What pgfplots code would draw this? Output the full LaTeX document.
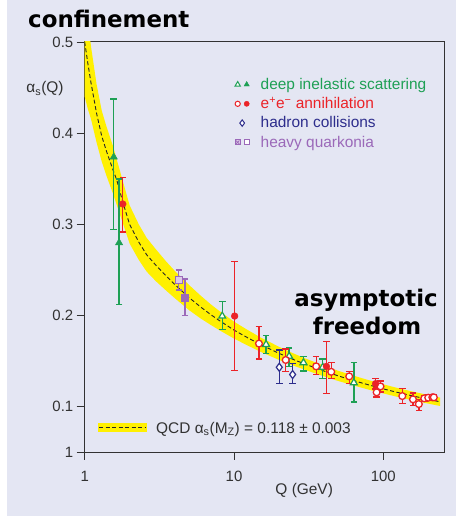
\documentclass[border=0pt]{standalone}
\usepackage{pgfplots}
\pgfplotsset{compat=1.18}
\usepackage{fontspec}
\setmainfont{Liberation Sans}
\newfontfamily\headfont{DejaVu Sans}
\definecolor{dgreen}{RGB}{30,160,85}
\definecolor{ered}{RGB}{235,35,40}
\definecolor{hblue}{RGB}{45,45,140}
\definecolor{qpurple}{RGB}{155,105,185}
\definecolor{qcdyellow}{RGB}{255,240,0}
\definecolor{bglav}{RGB}{228,230,243}
\definecolor{axgray}{RGB}{50,50,50}

\pgfplotsset{
  ebar/.style={error bars/.cd, y dir=both, y explicit,
    error bar style={line width=1.3bp, color=#1},
    error mark options={rotate=90, line width=1.3bp, mark size=3.3bp, color=#1},
    /pgfplots/.cd},
}

\begin{document}
\begin{tikzpicture}
\fill[white] (0,0) rectangle (456bp,516bp);
\fill[bglav] (7bp,0) rectangle (456bp,516bp);
\begin{axis}[
  at={(84.7bp,64bp)}, anchor=south west,
  scale only axis, width=359.3bp, height=410bp,
  xmode=log, xmin=1, xmax=255, ymin=0.05, ymax=0.5,
  xtick={1,10,100}, xticklabels={1,10,100}, xminorticks=false,
  ytick={0.05,0.1,0.2,0.3,0.4,0.5}, yticklabels={1,0.1,0.2,0.3,0.4,0.5},
  tick align=outside, major tick length=8bp,
  xtick pos=bottom, ytick pos=left,
  axis line style={line width=1bp, axgray},
  tick style={line width=0.9bp, axgray},
  ticklabel style={font=\fontsize{15}{18}\selectfont, text=axgray},
  xticklabel style={yshift=-8bp},
  legend style={at={(0.4058,0.922)}, anchor=north west, draw=none, fill=none,
    font=\fontsize{15.5}{18}\selectfont, row sep=2.5bp},
  legend cell align=left,
]
% QCD band (upper edge, then lower edge back)
\addplot[fill=qcdyellow, draw=none, forget plot] coordinates {
(1.00,0.560) (1.05,0.5254) (1.10,0.496) (1.20,0.454) (1.30,0.4248) (1.40,0.407)
(1.55,0.3853) (1.80,0.3473) (2.00,0.3207) (2.30,0.3000) (2.60,0.2850)
(3.0,0.2724) (3.5,0.2594) (4,0.2490) (5,0.2333) (6,0.2214) (7,0.2120) (8,0.2046)
(10,0.1931) (12,0.1851) (15,0.1759) (20,0.1655) (25,0.1582) (30,0.1527)
(40,0.1448) (50,0.1391) (60,0.1349) (70,0.1316) (80,0.1288) (91,0.1262)
(100,0.1243) (120,0.1209) (150,0.1171) (200,0.1125) (240,0.1097)
(240,0.1005) (200,0.1031) (150,0.1075) (120,0.1111) (100,0.1143) (91,0.1160)
(80,0.1184) (70,0.1210) (60,0.1241) (50,0.1279) (40,0.1330) (30,0.1401)
(25,0.1448) (20,0.1511) (15,0.1601) (12,0.1679) (10,0.1745) (8,0.1836)
(7,0.1894) (6,0.1964) (5,0.2057) (4,0.2190) (3.5,0.2274) (3.0,0.2374)
(2.60,0.2480) (2.30,0.2610) (2.00,0.2787) (1.80,0.3013) (1.55,0.3333)
(1.40,0.353) (1.30,0.3688) (1.20,0.390) (1.10,0.416) (1.05,0.4264) (1.00,0.440)
} -- cycle;
% QCD central value
\addplot[black!85, line width=0.9bp, dash pattern=on 4bp off 2.5bp, forget plot] coordinates {
(1.00,0.500) (1.05,0.4764) (1.10,0.456) (1.20,0.422) (1.30,0.3968) (1.40,0.380)
(1.55,0.3593) (1.64,0.3485) (1.80,0.3243) (2.00,0.2997) (2.30,0.2805) (2.60,0.2665)
(3.0,0.2549) (3.5,0.2434) (4,0.2340) (5,0.2195) (6,0.2089) (7,0.2007) (8,0.1941)
(10,0.1838) (12,0.1765) (15,0.1680) (20,0.1583) (25,0.1515) (30,0.1464)
(40,0.1389) (50,0.1335) (60,0.1295) (70,0.1263) (80,0.1236) (91,0.1211)
(100,0.1193) (120,0.1160) (150,0.1123) (200,0.1078) (240,0.1051)
};
% heavy quarkonia
\addplot[forget plot, only marks, color=qpurple, mark=square*, mark size=3.3bp,
  mark options={solid, fill=qpurple!35!white, line width=1.1bp}, ebar=qpurple]
  coordinates {(4.27,0.2387) += (0,0.011) -= (0,0.011)};
\addplot[forget plot, only marks, color=qpurple, mark=square*, mark size=3.5bp,
  mark options={solid, fill=qpurple}, ebar=qpurple]
  coordinates {(4.69,0.2197) += (0,0.0201) -= (0,0.0201)};
% hadron collisions
\addplot[forget plot, only marks, color=hblue, mark=diamond*, mark size=4bp,
  mark options={solid, fill=white, line width=1.2bp}, ebar=hblue]
  coordinates {(20.1,0.143) += (0,0.019) -= (0,0.018)
               (24.7,0.135) += (0,0.012) -= (0,0.010)};
% deep inelastic scattering, open
\addplot[forget plot, only marks, color=dgreen, mark=triangle*, mark size=4bp,
  mark options={solid, fill=white, line width=1.2bp}, ebar=dgreen]
  coordinates {(8.34,0.1992) += (0,0.0158) -= (0,0.0145)
               (16.4,0.168) += (0,0.010) -= (0,0.010)
               (23.4,0.155) += (0,0.009) -= (0,0.011)
               (29.2,0.148) += (0,0.007) -= (0,0.009)
               (39.3,0.143) += (0,0.009) -= (0,0.012)
               (63.5,0.126) += (0,0.022) -= (0,0.021)};
% deep inelastic scattering, filled
\addplot[forget plot, only marks, color=dgreen, mark=triangle*, mark size=4.2bp,
  mark options={solid, fill=dgreen}, ebar=dgreen]
  coordinates {(1.565,0.3738) += (0,0.0636) -= (0,0.0794)
               (1.70,0.2797) += (0,0.0699) -= (0,0.0681)};
% e+e- annihilation, open
\addplot[forget plot, only marks, color=ered, mark=*, mark size=3.4bp,
  mark options={solid, fill=white, line width=1.3bp}, ebar=ered]
  coordinates {(14.7,0.169) += (0,0.019) -= (0,0.017)
               (22.2,0.151) += (0,0.012) -= (0,0.013)
               (35.5,0.144) += (0,0.011) -= (0,0.009)
               (44.8,0.138) += (0,0.010) -= (0,0.007)
               (59.1,0.133) += (0,0.005) -= (0,0.008)
               (95.7,0.122) += (0,0.006) -= (0,0.006)
               (90.2,0.1155) += (0,0.005) -= (0,0.005)
               (134,0.1114) += (0,0.0086) -= (0,0.0084)
               (158,0.1078) += (0,0.007) -= (0,0.007)
               (173,0.1026) += (0,0.0054) -= (0,0.0073)
               (188,0.1089) += (0,0.003) -= (0,0.003)
               (200,0.1096) += (0,0.003) -= (0,0.003)
               (213,0.110) += (0,0.003) -= (0,0.003)
               (218,0.110) += (0,0.003) -= (0,0.003)};
% e+e- annihilation, filled
\addplot[forget plot, only marks, color=ered, mark=*, mark size=3.4bp,
  mark options={solid, fill=ered}, ebar=ered]
  coordinates {(1.80,0.3222) += (0,0.0293) -= (0,0.0308)
               (10.1,0.1992) += (0,0.0597) -= (0,0.060)
               (41.6,0.144) += (0,0.027) -= (0,0.030)
               (88.8,0.125) += (0,0.006) -= (0,0.006)};
% legend
\addlegendimage{legend image code/.code={
  \path[draw=none, fill=none] (0bp,-5bp) rectangle (25bp,5bp);
  \path[draw=dgreen, fill=white, line width=1bp] plot[mark=triangle*, mark size=3bp, mark options={solid}] coordinates {(4bp,0bp)};
  \path[draw=dgreen, fill=dgreen] plot[mark=triangle*, mark size=3bp, mark options={solid}] coordinates {(13bp,0bp)};
}}
\addlegendentry[text=dgreen]{deep inelastic scattering}
\addlegendimage{legend image code/.code={
  \path[draw=none, fill=none] (0bp,-5bp) rectangle (25bp,5bp);
  \path[draw=ered, fill=white, line width=1bp] plot[mark=*, mark size=2.6bp, mark options={solid}] coordinates {(4bp,0bp)};
  \path[draw=ered, fill=ered] plot[mark=*, mark size=2.6bp, mark options={solid}] coordinates {(13bp,0bp)};
}}
\addlegendentry[text=ered]{e\textsuperscript{+}e\textsuperscript{−} annihilation}
\addlegendimage{legend image code/.code={
  \path[draw=none, fill=none] (0bp,-5bp) rectangle (25bp,5bp);
  \path[draw=hblue, fill=white, line width=1bp] plot[mark=diamond*, mark size=3.2bp, mark options={solid}] coordinates {(8.5bp,0bp)};
}}
\addlegendentry[text=hblue]{hadron collisions}
\addlegendimage{legend image code/.code={
  \path[draw=none, fill=none] (0bp,-5bp) rectangle (25bp,5bp);
  \path[draw=qpurple, fill=qpurple!35!white, line width=1bp] plot[mark=square*, mark size=2.5bp, mark options={solid}] coordinates {(4bp,0bp)};
  \path[draw=qpurple, line width=0.7bp] plot[mark=x, mark size=2.5bp] coordinates {(4bp,0bp)};
  \path[draw=qpurple, fill=white, line width=1bp] plot[mark=square*, mark size=2.5bp, mark options={solid}] coordinates {(13bp,0bp)};
}}
\addlegendentry[text=qpurple]{heavy quarkonia}
\end{axis}
% texts
\node[anchor=base west, inner sep=0, font=\headfont\bfseries\fontsize{23}{26}\selectfont] at (28bp,488.7bp) {confinement};
\node[anchor=base, inner sep=0, font=\headfont\bfseries\fontsize{23}{26}\selectfont] at (366bp,209.3bp) {asymptotic};
\node[anchor=base, inner sep=0, font=\headfont\bfseries\fontsize{23}{26}\selectfont] at (367bp,181bp) {freedom};
\node[anchor=base, inner sep=0, text=axgray, font=\fontsize{15.5}{18}\selectfont] at (45bp,423bp) {α\textsubscript{s}(Q)};
\node[anchor=base, inner sep=0, text=axgray, font=\fontsize{15.5}{18}\selectfont] at (304.2bp,21.7bp) {Q (GeV)};
% QCD legend
\fill[qcdyellow] (98.3bp,83.7bp) rectangle (146.7bp,93.3bp);
\draw[black!85, dash pattern=on 4bp off 2.5bp, line width=0.9bp] (99bp,88.5bp) -- (146bp,88.5bp);
\node[anchor=base west, inner sep=0, text=axgray, font=\fontsize{15.5}{18}\selectfont] at (156bp,82.7bp) {QCD α\textsubscript{s}(M\textsubscript{Z}) = 0.118 ± 0.003};
\pgfresetboundingbox
\useasboundingbox (0,0) rectangle (456bp,516bp);
\end{tikzpicture}
\end{document}
